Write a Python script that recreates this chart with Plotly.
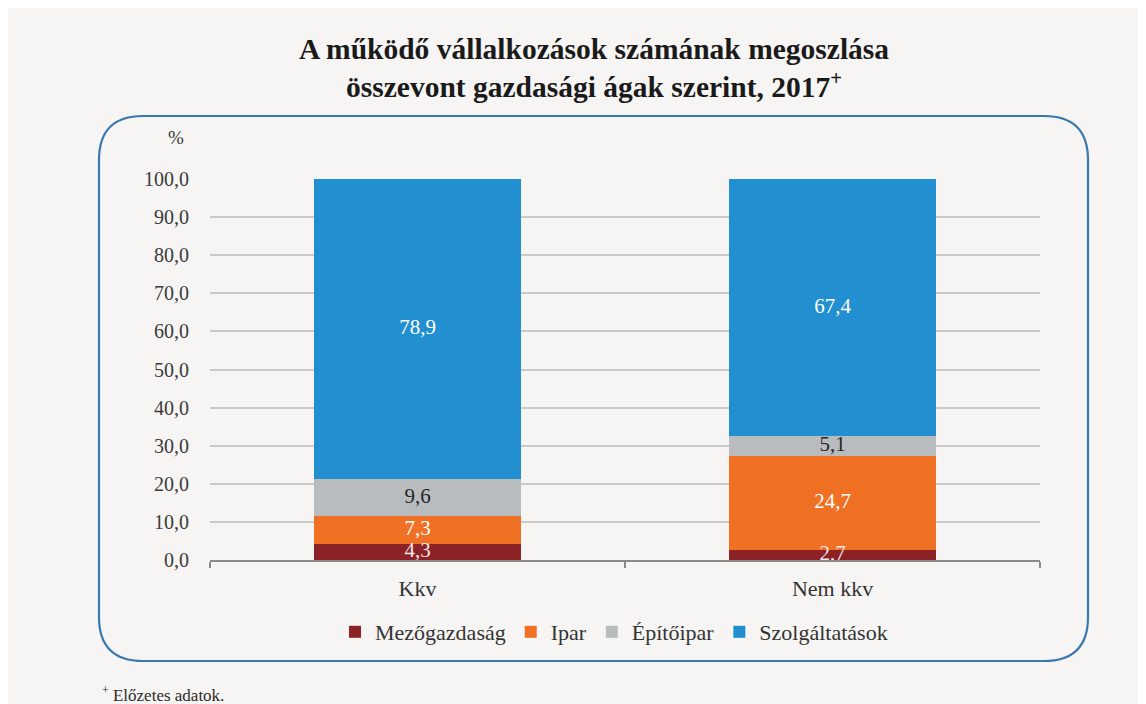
import plotly.graph_objects as go

categories = ["Kkv", "Nem kkv"]
series_names = ["Mezőgazdaság", "Ipar", "Építőipar", "Szolgáltatások"]
mezogazdasag = [4.3, 2.7]
ipar = [7.3, 24.7]
epitoipar = [9.6, 5.1]
szolgaltatasok = [78.9, 67.4]
series_values = [mezogazdasag, ipar, epitoipar, szolgaltatasok]
colors = ["#8c2226", "#f07024", "#b9bcbf", "#2290d0"]
label_colors = ["#f0e6e6", "#ffffff", "#262626", "#ffffff"]
y_ticks = [0, 10, 20, 30, 40, 50, 60, 70, 80, 90, 100]

W, H = 1146, 704
OFF = 8  # page body margin
L, R, T, B = 202, 114, 171, 152
PW, PH = W - L - R, H - T - B

def px(x):
    return (x - OFF - L) / PW

def py(y):
    return (H - B - (y - OFF)) / PH

FONT = "Liberation Serif"

fig = go.Figure()
base = [0.0] * len(categories)
label_traces = []
for name, vals, col, lc in zip(series_names, series_values, colors, label_colors):
    fig.add_trace(go.Bar(
        name=name, x=categories, y=vals, marker=dict(color=col, line=dict(width=0)),
        textposition="none", hoverinfo="skip",
    ))
    mids = [b + v / 2 for b, v in zip(base, vals)]
    label_traces.append(go.Scatter(
        x=categories, y=mids, mode="text", showlegend=False, cliponaxis=False,
        text=[f"{v:.1f}".replace(".", ",") for v in vals],
        textposition="middle center",
        textfont=dict(family=FONT, size=21, color=lc), hoverinfo="skip",
    ))
    base = [b + v for b, v in zip(base, vals)]
for tr in label_traces:
    fig.add_trace(tr)

# rounded frame
x0, x1 = 99, 1088
y0, y1 = 116, 661
r = 44
path = (
    f"M {px(x0 + r)} {py(y0)} L {px(x1 - r)} {py(y0)} "
    f"Q {px(x1)} {py(y0)} {px(x1)} {py(y0 + r)} "
    f"L {px(x1)} {py(y1 - r)} Q {px(x1)} {py(y1)} {px(x1 - r)} {py(y1)} "
    f"L {px(x0 + r)} {py(y1)} Q {px(x0)} {py(y1)} {px(x0)} {py(y1 - r)} "
    f"L {px(x0)} {py(y0 + r)} Q {px(x0)} {py(y0)} {px(x0 + r)} {py(y0)} Z"
)
shapes = [
    dict(type="path", xref="paper", yref="paper", path=path,
         line=dict(color="#3a78b0", width=2.2), layer="above"),
]

annotations = [
    dict(text="<b>A működő vállalkozások számának megoszlása<br>összevont gazdasági ágak szerint, 2017<sup>+</sup></b>",
         xref="paper", yref="paper", x=px(594), y=py(68), xanchor="center", yanchor="middle",
         showarrow=False, font=dict(family=FONT, size=29.5, color="#1a1a1a"), align="center"),
    dict(text="%", xref="paper", yref="paper", x=px(176), y=py(137), xanchor="center", yanchor="middle",
         showarrow=False, font=dict(family=FONT, size=19, color="#3a3a3a")),
    dict(text="<sup>+</sup> Előzetes adatok.", xref="paper", yref="paper", x=px(100), y=py(694),
         xanchor="left", yanchor="middle", showarrow=False,
         font=dict(family=FONT, size=17, color="#2a2a2a")),
]

fig.update_layout(
    width=W, height=H,
    margin=dict(l=L, r=R, t=T, b=B, pad=0),
    paper_bgcolor="#f6f5f3", plot_bgcolor="rgba(0,0,0,0)",
    barmode="stack", bargap=0.5,
    separators=", ",
    font=dict(family=FONT, size=20, color="#333333"),
    showlegend=True,
    legend=dict(orientation="h", xanchor="center", yanchor="middle", x=px(614), y=py(632),
                font=dict(family=FONT, size=22, color="#333333"), bgcolor="rgba(0,0,0,0)",
                itemwidth=30, tracegroupgap=0, traceorder="normal"),
    shapes=shapes, annotations=annotations,
)
fig.update_yaxes(range=[0, 100], tickvals=y_ticks, tickformat=".1f", showgrid=True,
                 gridcolor="#c9c9c9", gridwidth=2, zeroline=False, showline=False,
                 ticks="", ticklabelstandoff=20, tickfont=dict(family=FONT, size=20, color="#3a3a3a"))
fig.update_xaxes(showline=True, linecolor="#8a8a8a", linewidth=2, ticks="outside",
                 tickson="boundaries", ticklen=6, tickcolor="#8a8a8a", tickwidth=2,
                 showgrid=False, tickfont=dict(family=FONT, size=22, color="#333333"),
                 ticklabelstandoff=8)

fig.write_html("out.html")
